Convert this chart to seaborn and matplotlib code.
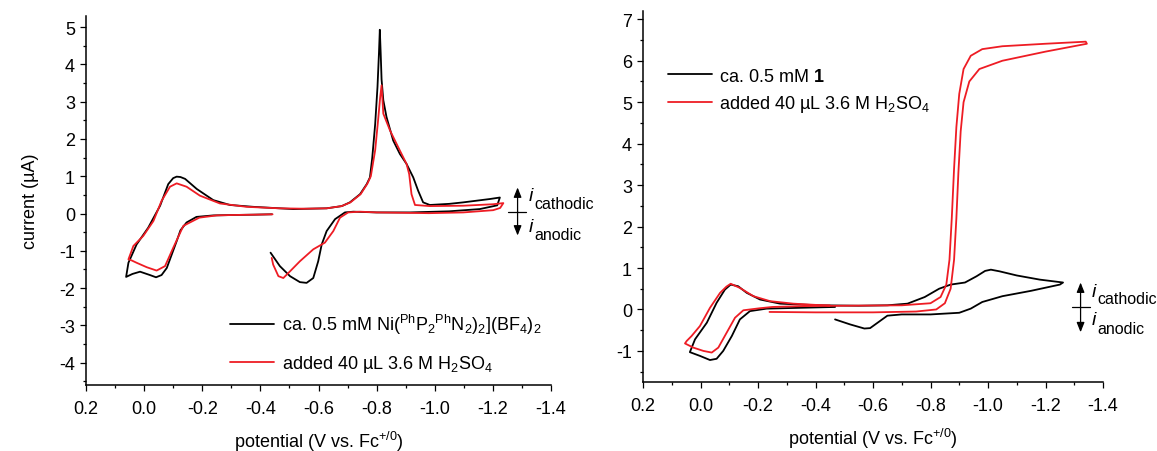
import matplotlib
matplotlib.use("Agg")
import matplotlib.pyplot as plt
import seaborn as sns
from matplotlib.ticker import MultipleLocator

# ---- cyclic voltammograms: potential (V vs. Fc+/0) and current (µA) ----
# Ni complex, before acid
left_black_E = [-0.44, -0.38, -0.30, -0.238, -0.18, -0.146, -0.125, -0.112, -0.095, -0.078, -0.06, -0.041,
                -0.02, 0.014, 0.04, 0.062,
                0.054, 0.026, -0.014, -0.055, -0.083, -0.10, -0.112, -0.125, -0.141, -0.181, -0.238, -0.295,
                -0.376, -0.467, -0.513, -0.628, -0.68, -0.708, -0.743, -0.766, -0.777, -0.785, -0.795, -0.803,
                -0.808, -0.811, -0.814, -0.817, -0.823, -0.834, -0.857, -0.88, -0.903, -0.926, -0.943, -0.96,
                -0.983, -1.05, -1.098, -1.19, -1.224,
                -1.215, -1.155, -1.05, -0.915, -0.80, -0.72, -0.691, -0.657, -0.628, -0.611, -0.599, -0.582,
                -0.559, -0.536, -0.502, -0.467, -0.435]
left_black_i = [-0.02, -0.03, -0.04, -0.05, -0.09, -0.24, -0.45, -0.74, -1.10, -1.46, -1.65, -1.71,
                -1.65, -1.56, -1.62, -1.70,
                -1.32, -0.83, -0.38, 0.21, 0.79, 0.95, 0.99, 0.98, 0.93, 0.66, 0.36, 0.23,
                0.18, 0.14, 0.12, 0.14, 0.20, 0.30, 0.52, 0.79, 0.97, 1.50, 2.40, 3.40,
                4.30, 4.93, 4.30, 3.60, 3.04, 2.59, 1.96, 1.60, 1.33, 0.97, 0.61, 0.30,
                0.23, 0.26, 0.30, 0.39, 0.43,
                0.22, 0.12, 0.06, 0.03, 0.03, 0.05, 0.03, -0.15, -0.47, -0.83, -1.28, -1.73,
                -1.86, -1.84, -1.68, -1.41, -1.05]

# Ni complex, after adding acid
left_red_E = [-0.442, -0.38, -0.30, -0.25, -0.19, -0.135, -0.10, -0.072, -0.043, -0.009, 0.026, 0.045, 0.054,
              0.037, 0.003, -0.032, -0.06, -0.089, -0.112, -0.146, -0.192, -0.261, -0.353, -0.467, -0.55,
              -0.628, -0.68, -0.71, -0.745, -0.768, -0.78, -0.795, -0.805, -0.812, -0.817, -0.823, -0.846,
              -0.88, -0.903, -0.912, -0.92, -0.932, -0.983, -1.098, -1.201, -1.236,
              -1.225, -1.201, -1.098, -0.98, -0.80, -0.743, -0.702, -0.674, -0.651, -0.622, -0.582, -0.536,
              -0.502, -0.479, -0.462, -0.444, -0.439]
left_red_i = [-0.02, -0.03, -0.04, -0.05, -0.11, -0.33, -0.92, -1.41, -1.53, -1.44, -1.32, -1.25, -1.23,
              -0.87, -0.60, -0.20, 0.34, 0.72, 0.81, 0.72, 0.48, 0.27, 0.18, 0.14, 0.13,
              0.14, 0.20, 0.30, 0.52, 0.80, 1.00, 1.70, 2.50, 3.10, 3.44, 2.68, 2.23,
              1.69, 1.33, 1.06, 0.52, 0.23, 0.20, 0.21, 0.25, 0.28,
              0.15, 0.09, 0.03, 0.01, 0.03, 0.05, 0.03, -0.11, -0.47, -0.78, -0.96, -1.28,
              -1.55, -1.73, -1.68, -1.37, -1.19]

# compound 1, before acid
right_black_E = [-0.468, -0.346, -0.23, -0.172, -0.137, -0.109, -0.079, -0.056, -0.033, 0.002, 0.037,
                 0.019, -0.022, -0.056, -0.085, -0.105, -0.131, -0.161, -0.207, -0.277, -0.416,
                 -0.55, -0.65, -0.72, -0.78, -0.83, -0.87, -0.92, -0.96, -0.99, -1.01, -1.04, -1.10,
                 -1.18, -1.261,
                 -1.25, -1.15, -1.05, -0.98, -0.94, -0.90, -0.80, -0.70, -0.65, -0.62, -0.59, -0.57,
                 -0.52, -0.468]
right_black_i = [0.06, 0.04, 0.02, -0.04, -0.24, -0.64, -1.00, -1.19, -1.22, -1.12, -1.03,
                 -0.72, -0.32, 0.16, 0.48, 0.60, 0.56, 0.40, 0.24, 0.14, 0.10,
                 0.09, 0.10, 0.14, 0.30, 0.50, 0.60, 0.65, 0.80, 0.93, 0.96, 0.92, 0.82,
                 0.72, 0.65,
                 0.60, 0.45, 0.32, 0.18, 0.02, -0.08, -0.12, -0.12, -0.15, -0.30, -0.45, -0.46,
                 -0.36, -0.24]

# compound 1, after adding acid
right_red_E = [-0.24, -0.40, -0.60, -0.75, -0.82, -0.85, -0.87, -0.882, -0.89, -0.897, -0.905, -0.915,
               -0.935, -0.97, -1.05, -1.20, -1.344,
               -1.34, -1.20, -1.05, -0.98, -0.94, -0.915, -0.90, -0.89, -0.882, -0.874, -0.866, -0.855,
               -0.835, -0.80, -0.70, -0.50, -0.35, -0.25, -0.207, -0.149, -0.12, -0.091, -0.062, -0.039,
               -0.01, 0.025, 0.054,
               0.048, 0.031, 0.002, -0.033, -0.068, -0.09, -0.105, -0.137, -0.184, -0.242, -0.323,
               -0.40, -0.45]
right_red_i = [-0.06, -0.07, -0.07, -0.05, 0.00, 0.15, 0.50, 1.20, 2.20, 3.30, 4.30, 5.00,
               5.50, 5.80, 6.00, 6.22, 6.41,
               6.46, 6.41, 6.35, 6.28, 6.12, 5.80, 5.20, 4.40, 3.40, 2.20, 1.20, 0.60,
               0.30, 0.15, 0.10, 0.09, 0.08, 0.06, 0.03, -0.02, -0.20, -0.56, -0.92, -1.04,
               -1.00, -0.92, -0.82,
               -0.76, -0.64, -0.40, 0.04, 0.40, 0.55, 0.62, 0.52, 0.32, 0.20, 0.14,
               0.11, 0.10]

left_labels = [r"ca. 0.5 mM Ni($^{\mathrm{Ph}}$P$_2$$^{\mathrm{Ph}}$N$_2$)$_2$](BF$_4$)$_2$",
               r"added 40 µL 3.6 M H$_2$SO$_4$"]
right_labels = [r"ca. 0.5 mM $\mathbf{1}$",
                r"added 40 µL 3.6 M H$_2$SO$_4$"]

BLACK = "#000000"
RED = "#ee1c24"

sns.set_style("ticks")
plt.rcParams.update({
    "font.family": ["Liberation Sans", "DejaVu Sans"],
    "mathtext.fontset": "custom",
    "mathtext.rm": "Liberation Sans",
    "mathtext.it": "Liberation Sans:italic",
    "mathtext.bf": "Liberation Sans:bold",
    "font.size": 13,
    "axes.edgecolor": "black",
    "axes.linewidth": 1.1,
    "xtick.color": "black",
    "ytick.color": "black",
    "xtick.direction": "out",
    "ytick.direction": "out",
    "xtick.major.size": 4.5,
    "ytick.major.size": 4.5,
    "xtick.minor.size": 2.5,
    "ytick.minor.size": 2.5,
    "xtick.major.width": 0.9,
    "ytick.major.width": 0.9,
    "xtick.minor.width": 0.9,
    "ytick.minor.width": 0.9,
    "xtick.major.pad": 6,
    "ytick.major.pad": 3.5,
    "xtick.labelsize": 13,
    "ytick.labelsize": 13,
    "text.color": "black",
    "axes.labelcolor": "black",
})

W, H = 1157, 452
fig = plt.figure(figsize=(W / 100, H / 100), dpi=100)
axL = fig.add_axes([86 / W, (H - 386) / H, 465 / W, 369 / H])
axR = fig.add_axes([643 / W, (H - 383) / H, 460 / W, 371 / H])

LW = 1.3

sns.lineplot(x=left_black_E, y=left_black_i, sort=False, estimator=None, color=BLACK,
             linewidth=LW, ax=axL, label=left_labels[0])
sns.lineplot(x=left_red_E, y=left_red_i, sort=False, estimator=None, color=RED,
             linewidth=LW, ax=axL, label=left_labels[1])
sns.lineplot(x=right_black_E, y=right_black_i, sort=False, estimator=None, color=BLACK,
             linewidth=LW, ax=axR, label=right_labels[0])
sns.lineplot(x=right_red_E, y=right_red_i, sort=False, estimator=None, color=RED,
             linewidth=LW, ax=axR, label=right_labels[1])


def style_axes(ax, ylim, ymajor):
    ax.set_xlim(0.2, -1.4)
    ax.set_ylim(*ylim)
    ax.xaxis.set_major_locator(MultipleLocator(0.2))
    ax.xaxis.set_minor_locator(MultipleLocator(0.1))
    ax.yaxis.set_major_locator(MultipleLocator(ymajor))
    ax.yaxis.set_minor_locator(MultipleLocator(ymajor / 2))
    ax.xaxis.set_major_formatter(plt.FuncFormatter(lambda v, p: f"{v:.1f}"))
    ax.yaxis.set_major_formatter(plt.FuncFormatter(lambda v, p: f"{v:.0f}"))
    ax.spines["top"].set_visible(False)
    ax.spines["right"].set_visible(False)
    ax.set_xlabel(r"potential (V vs. Fc$^{+/0}$)", fontsize=13)
    ax.xaxis.set_label_coords(0.5, -0.118)
    ax.set_facecolor("white")


style_axes(axL, (-4.6, 5.3), 1)
style_axes(axR, (-1.75, 7.2), 1)
axL.set_ylabel("current (µA)", fontsize=13)
axL.yaxis.set_label_coords(-0.101, 0.5)
axR.set_ylabel("")

legkw = dict(frameon=False, fontsize=13, handlelength=2.45, handletextpad=0.4,
             borderpad=0, borderaxespad=0, loc="upper left")
axL.legend(bbox_to_anchor=(0.31, 0.197), labelspacing=0.92, **legkw)
axR.legend(bbox_to_anchor=(0.054, 0.847), labelspacing=0.47, **legkw)


def current_sign_marker(ax, x, xl, xr, ymid, ytop, ybot, xt, yi_c, ys_c, yi_a, ys_a, xs):
    ax.plot([xl, xr], [ymid, ymid], color="black", lw=0.9, clip_on=False)
    ax.annotate("", xy=(x, ytop), xytext=(x, ymid), annotation_clip=False,
                arrowprops=dict(arrowstyle="-|>,head_length=0.45,head_width=0.18",
                                color="black", lw=0.9, shrinkA=0, shrinkB=0))
    ax.annotate("", xy=(x, ybot), xytext=(x, ymid), annotation_clip=False,
                arrowprops=dict(arrowstyle="-|>,head_length=0.45,head_width=0.18",
                                color="black", lw=0.9, shrinkA=0, shrinkB=0))
    ax.text(xt, yi_c, "i", style="italic", fontsize=14, va="baseline", ha="left", clip_on=False)
    ax.text(xs, ys_c, "cathodic", fontsize=11.5, va="baseline", ha="left", clip_on=False)
    ax.text(xt, yi_a, "i", style="italic", fontsize=14, va="baseline", ha="left", clip_on=False)
    ax.text(xs, ys_a, "anodic", fontsize=11.5, va="baseline", ha="left", clip_on=False)


current_sign_marker(axL, -1.285, -1.252, -1.314, 0.05, 0.70, -0.59,
                    -1.322, 0.35, 0.16, -0.46, -0.67, -1.342)
current_sign_marker(axR, -1.322, -1.292, -1.355, 0.05, 0.65, -0.55,
                    -1.360, 0.32, 0.16, -0.36, -0.56, -1.380)

fig.savefig("out.png", dpi=100, facecolor="white")
